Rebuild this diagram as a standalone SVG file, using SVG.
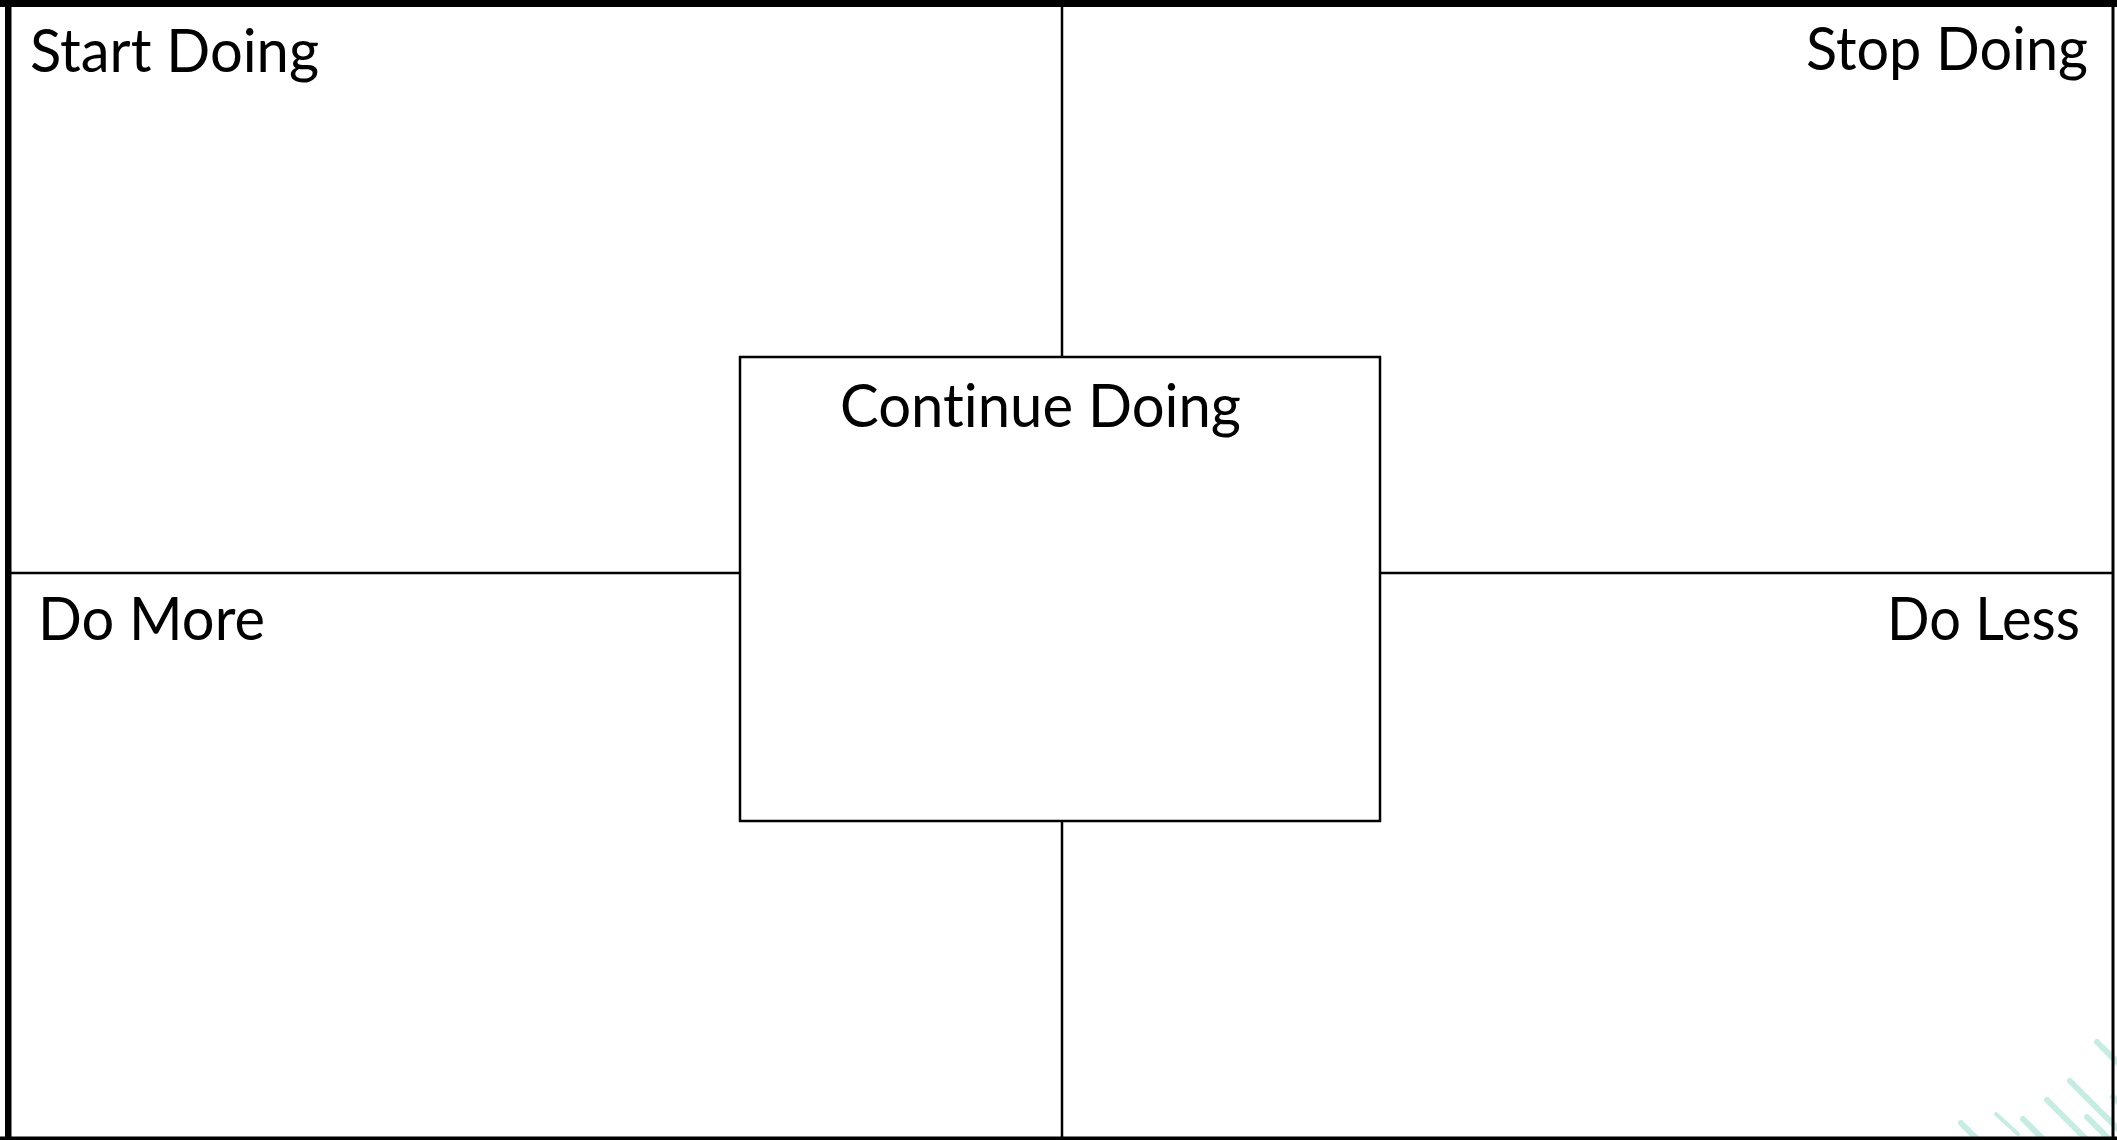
<svg xmlns="http://www.w3.org/2000/svg" width="2117" height="1140" viewBox="0 0 2117 1140">
<style>
.lbl{font-family:Lato,"Open Sans","Liberation Sans",sans-serif;font-size:60px;fill:#000;font-variant-ligatures:none;font-feature-settings:"liga" 0,"clig" 0}
.ln{stroke:#000;stroke-width:2.5;fill:none}
.deco{stroke:#c6ede3;stroke-width:6;stroke-linecap:round;fill:none}
</style>
<rect x="0" y="0" width="2117" height="1140" fill="#fff"/>
<g id="decoration">
<line class="deco" x1="2097" y1="1042" x2="2140" y2="1085"/>
<line class="deco" x1="2070" y1="1081" x2="2130" y2="1141"/>
<line class="deco" x1="2047" y1="1100" x2="2090" y2="1143"/>
<line class="deco" x1="2023" y1="1119" x2="2047" y2="1143"/>
<line class="deco" x1="1996" y1="1114" x2="2018" y2="1134" style="stroke-width:4"/>
<line class="deco" x1="1961" y1="1123" x2="1981" y2="1143"/>
<line class="deco" x1="2087" y1="1117" x2="2113" y2="1143"/>
<line class="deco" x1="2113" y1="1097" x2="2130" y2="1114"/>
</g>
<g id="connectors">
<line class="ln" x1="1062" y1="7" x2="1062" y2="357"/>
<line class="ln" x1="1062" y1="821" x2="1062" y2="1137"/>
<line class="ln" x1="11" y1="573" x2="740" y2="573"/>
<line class="ln" x1="1380" y1="573" x2="2112" y2="573"/>
</g>
<g id="frame">
<rect x="0" y="0" width="2117" height="7" fill="#000"/>
<rect x="5" y="0" width="6.5" height="1140" fill="#000"/>
<rect x="2111.5" y="0" width="3" height="1140" fill="#000"/>
<rect x="0" y="1136.5" width="2117" height="3.5" fill="#000"/>
</g>
<g id="start-doing"><text class="lbl" x="30" y="72" textLength="289" lengthAdjust="spacingAndGlyphs">Start Doing</text></g>
<g id="stop-doing"><text class="lbl" x="1806" y="70" textLength="282" lengthAdjust="spacingAndGlyphs">Stop Doing</text></g>
<g id="do-more"><text class="lbl" x="38" y="640" textLength="227" lengthAdjust="spacingAndGlyphs">Do More</text></g>
<g id="do-less"><text class="lbl" x="1887" y="640" textLength="193" lengthAdjust="spacingAndGlyphs">Do Less</text></g>
<g id="continue-doing">
<rect class="ln" x="740" y="357" width="640" height="464" fill="#fff"/>
<text class="lbl" x="840" y="427" textLength="401" lengthAdjust="spacingAndGlyphs">Continue Doing</text>
</g>
</svg>
